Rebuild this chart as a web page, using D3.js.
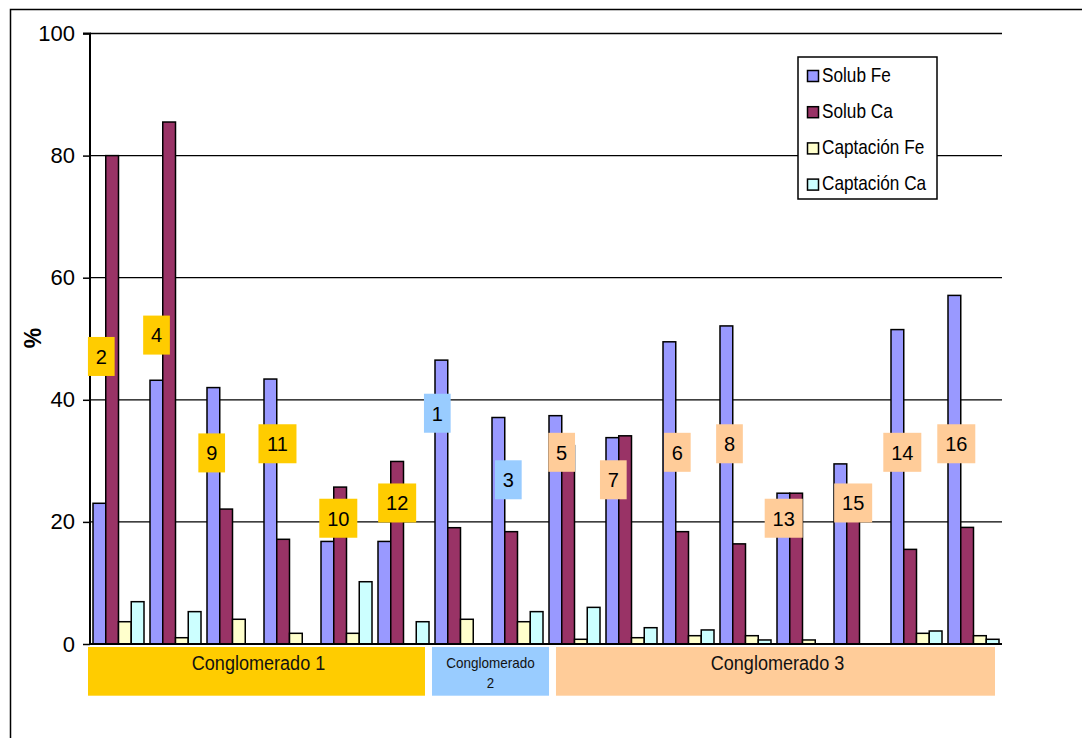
<!DOCTYPE html>
<html>
<head>
<meta charset="utf-8">
<script src="https://cdn.jsdelivr.net/npm/d3@7"></script>
<style>
  html, body { margin: 0; padding: 0; background: #fff; }
  svg { display: block; font-family: "Liberation Sans", Arial, sans-serif; }
</style>
</head>
<body>
<svg id="chart" width="1082" height="738"></svg>
<script>
// ---------- data ----------
const categories = ["2","4","9","11","10","12","1","3","5","7","6","8","13","15","14","16"];
const seriesNames = ["Solub Fe","Solub Ca","Captación Fe","Captación Ca"];
const solubFe    = [23.05,43.2,42.0,43.4,16.8,16.8,46.5,37.1,37.4,33.8,49.5,52.1,24.7,29.5,51.5,57.1];
const solubCa    = [80.0,85.5,22.1,17.15,25.7,29.9,19.05,18.4,32.5,34.1,18.4,16.4,24.7,21.0,15.5,19.1];
const captacionFe= [3.65,1.03,4.05,1.75,1.75,0,4.05,3.65,0.77,1.03,1.36,1.36,0.66,0,1.75,1.36];
const captacionCa= [6.93,5.3,0,0,10.2,3.65,0,5.3,6.0,2.67,2.3,0.66,0,0,2.13,0.77];
const yTicks = [0,20,40,60,80,100];
const clusterOf = [0,0,0,0,0,0,1,1,2,2,2,2,2,2,2,2];
const clusterLabels = [["Conglomerado 1"],["Conglomerado","2"],["Conglomerado 3"]];
// label annotation anchors: position within the category band (fraction) and value (%)
const labelBandPos = [0.198,0.167,0.135,0.289,0.356,0.389,0.093,0.339,0.275,0.181,0.304,0.219,0.170,0.389,0.251,0.198];
const labelValue   = [47.1,50.6,31.3,32.8,20.6,23.1,37.8,26.9,31.4,26.9,31.4,32.8,20.6,23.1,31.4,32.8];
// cluster spans in category-step units
const clusterSpan = [[-0.035,5.877],[6.0,8.053],[8.175,15.877]];

const seriesValues = [solubFe, solubCa, captacionFe, captacionCa];
const seriesColors = ["#9999FF","#993366","#FFFFCC","#CCFFFF"];
const clusterColors = ["#FFCC00","#99CCFF","#FFCC99"];

// ---------- layout ----------
const svg = d3.select("#chart");
const plotL = 90, plotR = 1002, plotT = 33.5, plotB = 644;

const x = d3.scaleBand().domain(categories).range([plotL, plotR])
  .paddingInner(6/57).paddingOuter(3/57);
const step = x.step();
const xs = d3.scaleBand().domain(seriesNames).range([0, x.bandwidth()]).padding(0);
const y = d3.scaleLinear().domain([0,100]).range([plotB, plotT]);

// outer frame
svg.append("rect").attr("x",10.5).attr("y",9.5).attr("width",1085).attr("height",800)
  .attr("fill","none").attr("stroke","#000").attr("stroke-width",1.5);

// gridlines
svg.append("g").selectAll("line").data(yTicks.filter(d=>d>0)).join("line")
  .attr("x1",plotL).attr("x2",plotR)
  .attr("y1",d=>y(d)).attr("y2",d=>y(d))
  .attr("stroke","#000").attr("stroke-width",1.3);

// bars
const barData = [];
categories.forEach((c,i)=>{
  seriesNames.forEach((s,j)=>{
    const v = seriesValues[j][i];
    if (v > 0) barData.push({c, s, v, j});
  });
});
svg.append("g").selectAll("rect").data(barData).join("rect")
  .attr("x", d=>x(d.c)+xs(d.s))
  .attr("y", d=>y(d.v))
  .attr("width", xs.bandwidth())
  .attr("height", d=>y(0)-y(d.v))
  .attr("fill", d=>seriesColors[d.j])
  .attr("stroke","#000").attr("stroke-width",1.5);

// y axis
const yAxis = d3.axisLeft(y).tickValues(yTicks).tickSize(7).tickPadding(8).tickFormat(d3.format("d"));
const gy = svg.append("g").attr("transform",`translate(${plotL},0)`).call(yAxis);
gy.select(".domain").attr("stroke","#000").attr("stroke-width",2).attr("d",`M-7,${y(100)}H0V${y(0)}`);
gy.selectAll(".tick line").attr("stroke","#000").attr("stroke-width",1.5);
gy.selectAll(".tick text").attr("font-size",22).attr("fill","#000")
  .attr("font-family","'Liberation Sans', Arial, sans-serif");

// x axis line
svg.append("line").attr("x1",plotL-1).attr("x2",plotR).attr("y1",y(0)).attr("y2",y(0))
  .attr("stroke","#000").attr("stroke-width",2);

// y axis title
svg.append("text").attr("transform","translate(41,338) rotate(-90)")
  .attr("text-anchor","middle").attr("font-size",23).attr("font-weight","bold").text("%");

// sample labels
const lab = svg.append("g");
categories.forEach((c,i)=>{
  const cx = x(c) - step*(3/57) + labelBandPos[i]*step;
  const cy = y(labelValue[i]);
  const w = c.length === 1 ? 26.7 : 38;
  const h = 39;
  lab.append("rect").attr("x",cx-w/2).attr("y",cy-h/2).attr("width",w).attr("height",h)
    .attr("fill",clusterColors[clusterOf[i]]);
  lab.append("text").attr("x",cx).attr("y",cy+7.3).attr("text-anchor","middle")
    .attr("font-size",20).attr("fill","#000").text(c);
});

// cluster boxes
const cl = svg.append("g");
clusterSpan.forEach((sp,k)=>{
  const x0 = plotL + sp[0]*step, x1 = plotL + sp[1]*step;
  cl.append("rect").attr("x",x0).attr("y",647).attr("width",x1-x0).attr("height",48.7)
    .attr("fill",clusterColors[k]);
  const cx = (x0+x1)/2;
  const lines = clusterLabels[k];
  if (lines.length === 1) {
    cl.append("text").attr("transform",`translate(${cx+2},670) scale(0.86,1)`)
      .attr("text-anchor","middle").attr("font-size",21).attr("fill","#111").text(lines[0]);
  } else {
    cl.append("text").attr("transform",`translate(${cx},668.3) scale(0.9,1)`)
      .attr("text-anchor","middle").attr("font-size",15).attr("fill","#111").text(lines[0]);
    cl.append("text").attr("transform",`translate(${cx},687.5) scale(0.95,1)`)
      .attr("text-anchor","middle").attr("font-size",14).attr("fill","#111").text(lines[1]);
  }
});

// legend
const lg = svg.append("g");
lg.append("rect").attr("x",798).attr("y",57).attr("width",139).attr("height",142)
  .attr("fill","#fff").attr("stroke","#000").attr("stroke-width",1.5);
seriesNames.forEach((s,j)=>{
  const by = 81.5 + j*36.2;
  lg.append("rect").attr("x",807.5).attr("y",by-11).attr("width",11).attr("height",11)
    .attr("fill",seriesColors[j]).attr("stroke","#000").attr("stroke-width",1.5);
  lg.append("text").attr("transform",`translate(822,${by}) scale(0.86,1)`)
    .attr("font-size",20).attr("fill","#000").text(s);
});
</script>
</body>
</html>
